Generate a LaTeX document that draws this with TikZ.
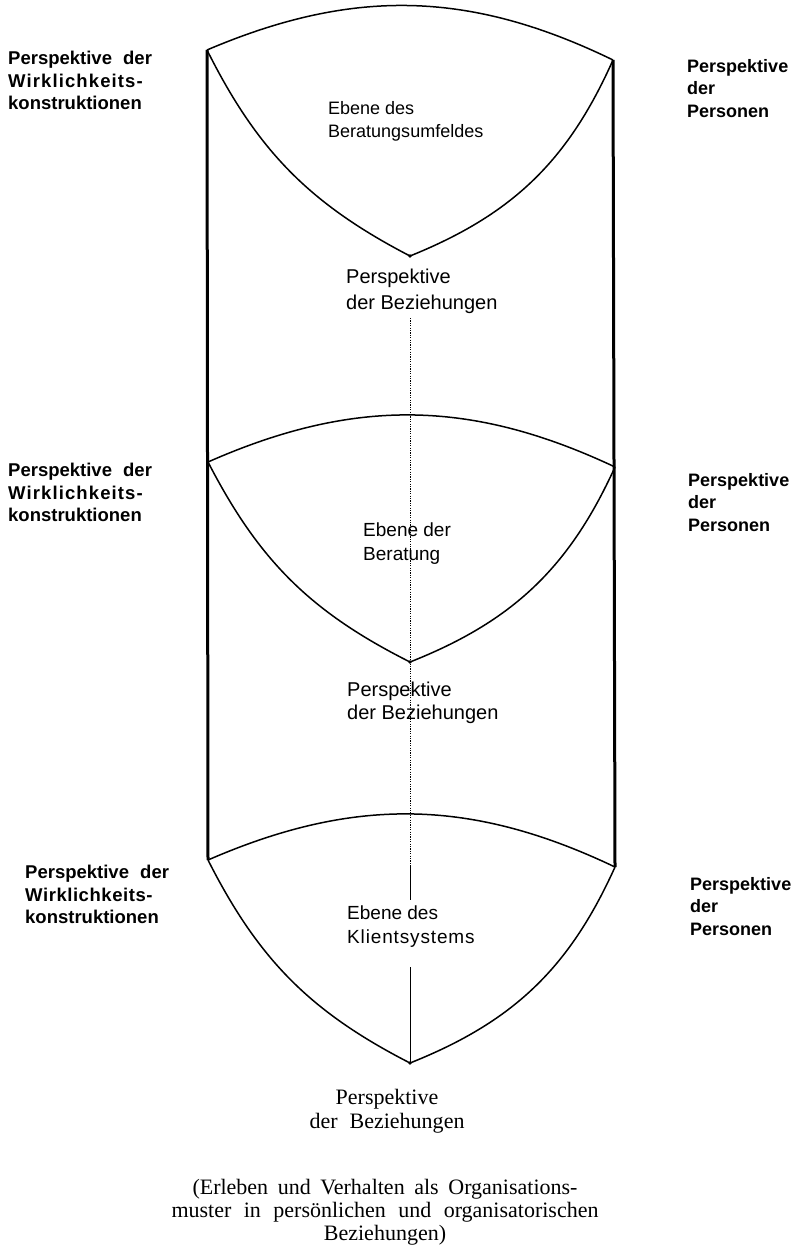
\documentclass[tikz,border=0pt]{standalone}
\usepackage{fontspec}
\setmainfont{Liberation Serif}
\setsansfont{Liberation Sans}

\begin{document}
\begin{tikzpicture}[x=1pt,y=-1pt,
    rim/.style={line width=1.5pt},
    pole/.style={line width=3pt},
    axis/.style={line width=0.9pt,dash pattern=on 1.2pt off 1.2pt},
    axissolid/.style={line width=0.9pt},
    sidelabel/.style={anchor=north west,inner sep=0pt,align=left,
      font=\fontsize{18.5}{22.5}\selectfont\sffamily\bfseries},
    innerlabel/.style={anchor=north west,inner sep=0pt,align=left,
      font=\fontsize{18}{23}\selectfont\sffamily},
    footlabel/.style={anchor=north,inner sep=0pt,align=center,
      font=\fontsize{22}{24}\selectfont\rmfamily}]
  \useasboundingbox (0,0) rectangle (800,1246);

  % corners of the three levels
  \coordinate (L1) at (207,50);  \coordinate (R1) at (613,60);  \coordinate (B1) at (410,256);
  \coordinate (L2) at (208,462); \coordinate (R2) at (615,467); \coordinate (B2) at (410,662);
  \coordinate (L3) at (208,860); \coordinate (R3) at (615,867); \coordinate (B3) at (410,1063);

  % outer verticals
  \draw[pole] (L1) -- (L3);
  \draw[pole] (R1) -- (R3);

  % the three lenses
  \foreach \i in {1,2,3} {
    \draw[rim] (L\i) to[bend left=24.5] (R\i);
    \draw[rim] (L\i) to[bend right=18] (B\i) to[bend right=22] (R\i);
    \fill (B\i) circle (1.8pt);
  }

  % middle axis
  \coordinate (axtop) at (410,318);
  \coordinate (axlow) at (410,865);
  \coordinate (axgap) at (410,900);
  \coordinate (axend) at (410,967);
  \draw[axis] (axtop) -- (axlow);
  \draw[axissolid] (axlow) -- (axgap);
  \draw[axissolid] (axend) -- (B3);

  % left side
  \node[sidelabel] (wk1) at (8,51) {Perspektive\hspace{6pt} der\\{\addfontfeature{LetterSpace=6}Wirklichkeits-}\\konstruktionen};
  \node[sidelabel] (wk2) at (8,463) {Perspektive\hspace{6pt} der\\{\addfontfeature{LetterSpace=6}Wirklichkeits-}\\konstruktionen};
  \node[sidelabel] (wk3) at (25,865) {Perspektive\hspace{6pt} der\\{\addfontfeature{LetterSpace=3}Wirklichkeits-}\\konstruktionen};

  % right side
  \node[sidelabel,font=\fontsize{18}{22.5}\selectfont\sffamily\bfseries] (pe1) at (687,59) {Perspektive\\der\\Personen};
  \node[sidelabel,font=\fontsize{18}{22.5}\selectfont\sffamily\bfseries] (pe2) at (688,473) {Perspektive\\der\\Personen};
  \node[sidelabel,font=\fontsize{18}{22.5}\selectfont\sffamily\bfseries] (pe3) at (690,877) {Perspektive\\der\\Personen};

  % inside the lenses
  \node[innerlabel] (umfeld) at (328,101) {Ebene des\\Beratungsumfeldes};
  \node[innerlabel,font=\fontsize{20}{26}\selectfont\sffamily] (bz1) at (346,269) {Perspektive\\der Beziehungen};
  \node[innerlabel,font=\fontsize{19}{24}\selectfont\sffamily] (beratung) at (363,523) {Ebene der\\Beratung};
  \node[innerlabel,font=\fontsize{20}{23}\selectfont\sffamily] (bz2) at (347,682) {Perspektive\\der Beziehungen};
  \node[innerlabel,font=\fontsize{19}{24}\selectfont\sffamily] (klient) at (347,906) {Ebene des\\{\addfontfeature{LetterSpace=4.5}Klientsystems}};

  % below
  \node[footlabel] (bz3) at (387,1089) {Perspektive\\\makebox[155pt][s]{der Beziehungen}};
  \node[footlabel,font=\fontsize{22}{23}\selectfont\rmfamily] (note) at (385,1179)
    {\makebox[385pt][s]{(Erleben und Verhalten als Organisations-}\\
     \makebox[427pt][s]{muster in persönlichen und organisatorischen}\\
     Beziehungen)};
\end{tikzpicture}
\end{document}
